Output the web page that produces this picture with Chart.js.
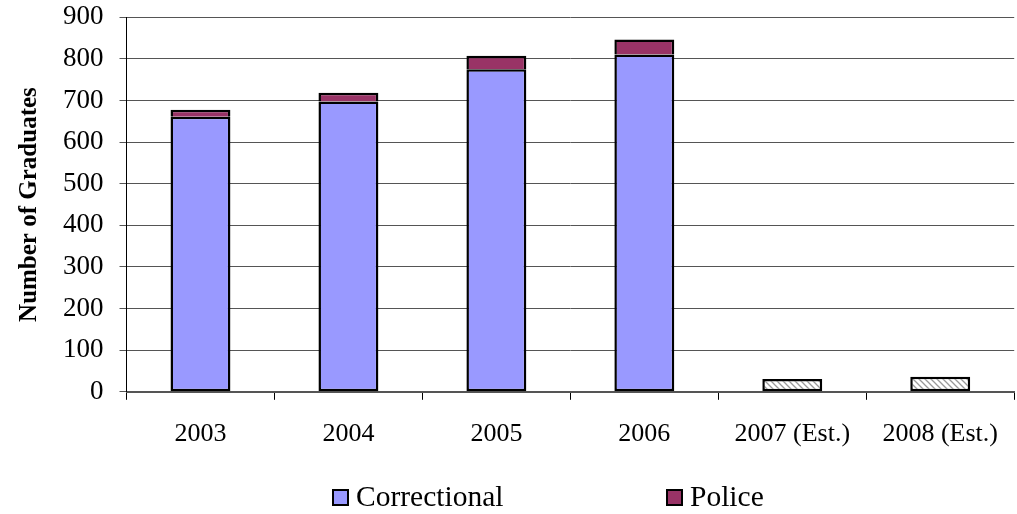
<!DOCTYPE html>
<html lang="en">
<head>
    <meta charset="UTF-8">
    <title>Number of Graduates</title>
    <script src="https://cdn.jsdelivr.net/npm/chart.js"></script>
    <style>
        body {
            margin: 0;
            padding: 0;
            background: #fff;
        }

        #chartBox {
            width: 1017px;
            height: 514px;
        }
    </style>
</head>
<body>
    <div id="chartBox"><canvas id="chart"></canvas></div>

    <script>
        const years = ['2003', '2004', '2005', '2006', '2007 (Est.)', '2008 (Est.)'];
        const correctional = [661, 698, 775, 811, null, null];
        const police = [17, 21, 33, 36, null, null];
        const estimated = [null, null, null, null, 31, 36];

        const serif = 'Liberation Serif';

        // striped fill for the estimate bars
        function makeHatch() {
            const c = document.createElement('canvas');
            c.width = 6;
            c.height = 6;
            const g = c.getContext('2d');
            g.fillStyle = '#fff';
            g.fillRect(0, 0, 6, 6);
            g.strokeStyle = '#999';
            g.lineWidth = 1.3;
            g.beginPath();
            g.moveTo(0, 0); g.lineTo(6, 6);
            g.moveTo(-3, 3); g.lineTo(3, 9);
            g.moveTo(3, -3); g.lineTo(9, 3);
            g.stroke();
            return g.createPattern(c, 'repeat');
        }

        // legend drawn on the canvas, only the two real series
        const bottomLegend = {
            id: 'bottomLegend',
            afterDraw(chart) {
                const c = chart.ctx;
                const items = [
                    { ds: 0, x: 333 },
                    { ds: 1, x: 667 }
                ];
                c.save();
                c.font = 'normal normal 29.5px Liberation Serif, serif';
                c.textBaseline = 'middle';
                items.forEach(it => {
                    const ds = chart.data.datasets[it.ds];
                    c.fillStyle = ds.backgroundColor;
                    c.fillRect(it.x, 490, 15, 15);
                    c.strokeStyle = '#000';
                    c.lineWidth = 2;
                    c.strokeRect(it.x, 490, 15, 15);
                    c.fillStyle = '#000';
                    c.fillText(ds.label, it.x + 23, 498);
                });
                c.restore();
            }
        };

        const ctx = document.getElementById('chart');

        new Chart(ctx, {
            type: 'bar',
            data: {
                labels: years,
                datasets: [{
                    label: 'Correctional',
                    data: correctional,
                    backgroundColor: '#9999FF',
                    borderColor: '#000',
                    borderWidth: 2.5,
                    borderSkipped: false
                }, {
                    label: 'Police',
                    data: police,
                    backgroundColor: '#993366',
                    borderColor: '#000',
                    borderWidth: 2.5,
                    borderSkipped: 'bottom'
                }, {
                    label: 'Estimated',
                    data: estimated,
                    backgroundColor: makeHatch(),
                    borderColor: '#000',
                    borderWidth: 2.5,
                    borderSkipped: false
                }]
            },
            plugins: [bottomLegend],
            options: {
                responsive: true,
                maintainAspectRatio: false,
                animation: false,
                layout: {
                    padding: { top: 0, right: 0, left: 0, bottom: 45 }
                },
                datasets: {
                    bar: {
                        categoryPercentage: 1.0,
                        barPercentage: 0.405
                    }
                },
                plugins: {
                    legend: { display: false },
                    tooltip: { enabled: false }
                },
                scales: {
                    x: {
                        stacked: true,
                        border: { color: '#555', width: 2 },
                        grid: {
                            offset: true,
                            drawOnChartArea: false,
                            color: '#000',
                            tickLength: 8
                        },
                        ticks: {
                            color: '#000',
                            font: { family: serif, size: 26 },
                            padding: 19,
                            maxRotation: 0
                        }
                    },
                    y: {
                        stacked: true,
                        min: 0,
                        max: 900,
                        border: { color: '#000', width: 1 },
                        grid: {
                            color: '#555',
                            tickLength: 7
                        },
                        ticks: {
                            stepSize: 100,
                            color: '#000',
                            font: { family: serif, size: 27, lineHeight: 0.1 },
                            padding: 16
                        },
                        title: {
                            display: true,
                            text: 'Number of Graduates',
                            color: '#000',
                            font: { family: serif, size: 25, weight: 'bold' },
                            padding: { top: 15, bottom: 2 }
                        }
                    }
                }
            }
        });
    </script>
</body>
</html>
